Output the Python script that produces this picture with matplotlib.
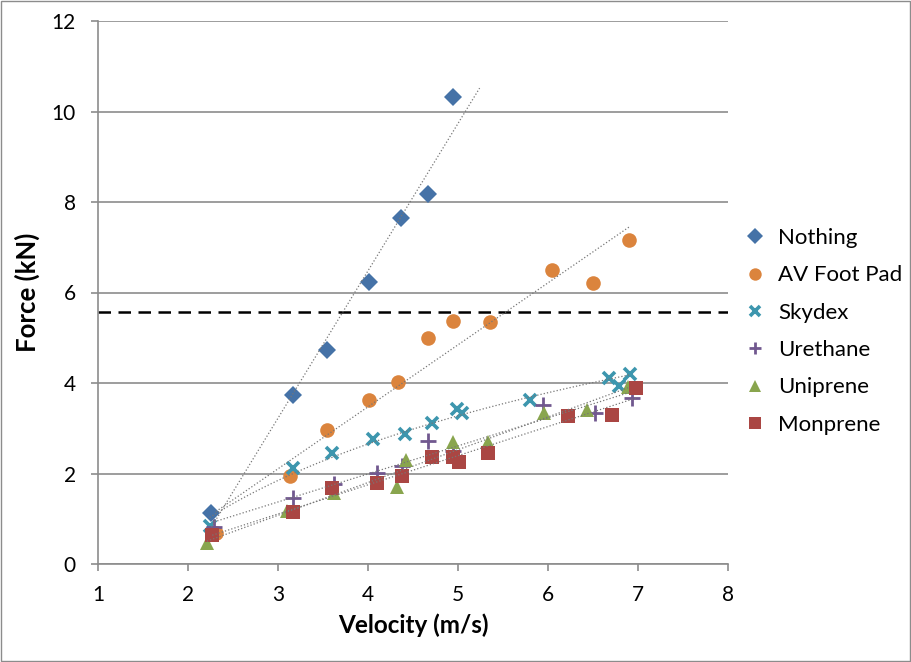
import numpy as np
import matplotlib
matplotlib.use('Agg')
from matplotlib import pyplot as plt
from matplotlib.patches import Rectangle

plt.rcParams['font.family'] = ['Lato', 'DejaVu Sans']

## data
nothing_x = [2.26, 3.17, 3.54, 4.01, 4.37, 4.67, 4.94]
nothing_y = [1.13, 3.73, 4.73, 6.23, 7.65, 8.18, 10.32]

avpad_x = [2.31, 3.13, 3.54, 4.01, 4.33, 4.67, 4.94, 5.36, 6.04, 6.50, 6.90]
avpad_y = [0.68, 1.94, 2.96, 3.62, 4.02, 4.99, 5.37, 5.35, 6.50, 6.21, 7.16]

skydex_x = [2.24, 3.17, 3.60, 4.06, 4.41, 4.71, 4.99, 5.04, 5.80, 6.68, 6.79, 6.91]
skydex_y = [0.84, 2.12, 2.45, 2.76, 2.87, 3.12, 3.42, 3.33, 3.62, 4.11, 3.93, 4.20]

urethane_x = [2.29, 3.17, 3.62, 4.10, 4.38, 4.67, 4.94, 5.94, 6.52, 6.93]
urethane_y = [0.82, 1.46, 1.77, 2.01, 2.17, 2.72, 2.50, 3.51, 3.34, 3.67]

uniprene_x = [2.21, 3.10, 3.62, 4.32, 4.42, 4.94, 5.33, 5.96, 6.43, 6.89]
uniprene_y = [0.46, 1.17, 1.57, 1.70, 2.30, 2.70, 2.70, 3.33, 3.40, 3.91]

monprene_x = [2.27, 3.17, 3.60, 4.10, 4.38, 4.71, 4.94, 5.01, 5.33, 6.22, 6.71, 6.98]
monprene_y = [0.64, 1.15, 1.68, 1.79, 1.94, 2.36, 2.36, 2.25, 2.45, 3.27, 3.29, 3.89]

threshold = 5.57

## name, x, y, colour, marker, size, trend type, forward extension
series = [
    ('Nothing', nothing_x, nothing_y, '#4572A7', 'D', 9, 'lin', 0.3),
    ('AV Foot Pad', avpad_x, avpad_y, '#DB843D', 'o', 10.5, 'lin', 0),
    ('Skydex', skydex_x, skydex_y, '#3D96AE', 'x', 9, 'log', 0),
    ('Urethane', urethane_x, urethane_y, '#71588F', '+', 11, 'lin', 0),
    ('Uniprene', uniprene_x, uniprene_y, '#89A54E', '^', 10.5, 'lin', 0),
    ('Monprene', monprene_x, monprene_y, '#AA4643', 's', 10.5, 'lin', 0),
]

fig = plt.figure(figsize=(9.11, 6.62), dpi=100)
ax = fig.add_axes([98/911, 98/662, 630/911, 543/662])

for name, xs, ys, col, mk, ms, kind, ext in series:
    if mk in ('x', '+'):
        ax.plot(xs, ys, linestyle='none', marker=mk, color=col, markersize=ms,
                markeredgewidth=2.6 if mk == 'x' else 2, label=name, zorder=3)
    else:
        ax.plot(xs, ys, linestyle='none', marker=mk, color=col, markersize=ms,
                markeredgewidth=0, label=name, zorder=3)

## trendlines (dotted)
for name, xs, ys, col, mk, ms, kind, ext in series:
    tx = np.linspace(min(xs), max(xs) + ext, 50)
    if kind == 'log':
        a, b = np.polyfit(np.log(xs), ys, 1)
        ty = a*np.log(tx) + b
    else:
        a, b = np.polyfit(xs, ys, 1)
        ty = a*tx + b
    ax.plot(tx, ty, linestyle=':', color='#777777', linewidth=0.9, zorder=4)

ax.axhline(threshold, color='black', linestyle=(0, (5, 3)), linewidth=1.8, zorder=2)

ax.set_xlim(1, 8)
ax.set_ylim(0, 12)
ax.set_xticks(range(1, 9))
ax.set_yticks(range(0, 13, 2))
ax.yaxis.grid(True, color='#8c8c8c', linewidth=1.2)
ax.set_axisbelow(True)
for s in ['top', 'right']:
    ax.spines[s].set_visible(False)
for s in ['left', 'bottom']:
    ax.spines[s].set_color('#8c8c8c')
    ax.spines[s].set_linewidth(1.2)
ax.tick_params(axis='both', labelsize=15, color='#8c8c8c', width=1.2, length=5, direction='out')
ax.tick_params(axis='y', pad=11)
ax.tick_params(axis='x', pad=10)

ax.set_xlabel('Velocity (m/s)', fontsize=17.5, fontweight='bold', labelpad=6)
ax.set_ylabel('Force (kN)', fontsize=18.5, fontweight='bold', labelpad=8)

ax.legend(loc='upper left', bbox_to_anchor=(746/911, 1 - 228/662), bbox_transform=fig.transFigure,
          frameon=False, fontsize=16, labelspacing=0.78, handletextpad=0.65, handlelength=0.8,
          borderaxespad=0, borderpad=0, markerscale=0.85)

fig.patches.append(Rectangle((0.001, 0.001), 0.998, 0.998, transform=fig.transFigure,
                             fill=False, edgecolor='#8c8c8c', linewidth=1))

plt.savefig('out.png', dpi=100)
